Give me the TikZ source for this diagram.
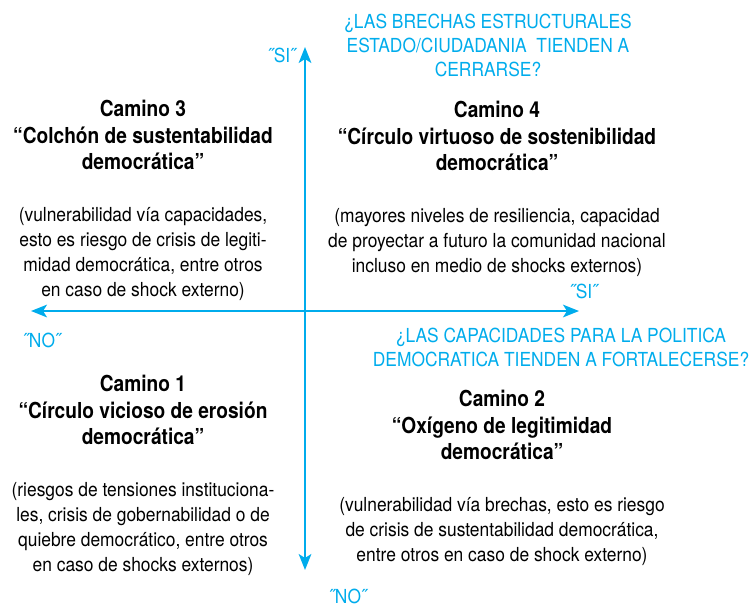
\documentclass[tikz,border=0pt]{standalone}
\usepackage{fontspec}
\setmainfont{TeX Gyre Heros}[FakeStretch=0.90]
\newfontfamily\titlefont{TeX Gyre Heros}[FakeStretch=0.87]
\usetikzlibrary{arrows.meta,positioning}
\definecolor{axisblue}{RGB}{0,172,236}
\tikzset{
  axis/.style={{Stealth[length=12pt,width=9.5pt,inset=3pt]}-{Stealth[length=12pt,width=9.5pt,inset=3pt]},
    line width=1.5pt,draw=axisblue},
  title/.style={font=\titlefont\fontsize{16.5}{19.9}\selectfont\bfseries,align=center,inner sep=0pt},
  note/.style={font=\fontsize{14.5}{18.7}\selectfont,align=center,inner sep=0pt},
  question/.style={font=\fontsize{14.5}{18}\selectfont,text=axisblue,align=center,inner sep=0pt},
  answer/.style={font=\fontsize{14.5}{16}\selectfont,text=axisblue,inner sep=0pt}
}
\begin{document}
\begin{tikzpicture}[x=0.75pt,y=-0.75pt,node distance=28pt]
  \useasboundingbox (0,0) rectangle (752,607);

  % axes
  \coordinate (north) at (305,47);
  \coordinate (south) at (305,570);
  \coordinate (west) at (31,311);
  \coordinate (east) at (579,311);
  \draw[axis] (south) -- (north);
  \draw[axis] (west) -- (east);

  % axis labels
  \node[answer] (si top) at (282,55) {˝SI˝};
  \node[answer] (no bottom) at (348,596) {˝NO˝};
  \node[answer] (si right) at (584,291) {˝SI˝};
  \node[answer] (no left) at (42,340) {˝NO˝};

  \node[question] (q brechas) at (488,45)
    {¿LAS BRECHAS ESTRUCTURALES\\ESTADO/CIUDADANIA\ \ TIENDEN A\\CERRARSE?};
  \node[question] (q capacidades) at (561,347)
    {¿LAS CAPACIDADES PARA LA POLITICA\\DEMOCRATICA TIENDEN A FORTALECERSE?};

  % quadrants
  \node[title] (camino3) at (143,135)
    {Camino 3\\“Colchón de sustentabilidad\\democrática”};
  \node[note,below=of camino3] (nota3)
    {(vulnerabilidad vía capacidades,\\esto es riesgo de crisis de legiti-\\midad democrática, entre otros\\en caso de shock externo)};

  \node[title] (camino4) at (497,136)
    {Camino 4\\“Círculo virtuoso de sostenibilidad\\democrática”};
  \node[note,below=of camino4] (nota4)
    {(mayores niveles de resiliencia, capacidad\\de proyectar a futuro la comunidad nacional\\incluso en medio de shocks externos)};

  \node[title] (camino1) at (143,410)
    {Camino 1\\“Círculo vicioso de erosión\\democrática”};
  \node[note,below=of camino1] (nota1)
    {(riesgos de tensiones instituciona-\\les, crisis de gobernabilidad o de\\quiebre democrático, entre otros\\en caso de shocks externos)};

  \node[title] (camino2) at (502,425)
    {Camino 2\\“Oxígeno de legitimidad\\democrática”};
  \node[note,below=of camino2] (nota2)
    {(vulnerabilidad vía brechas, esto es riesgo\\de crisis de sustentabilidad democrática,\\entre otros en caso de shock externo)};
\end{tikzpicture}
\end{document}
